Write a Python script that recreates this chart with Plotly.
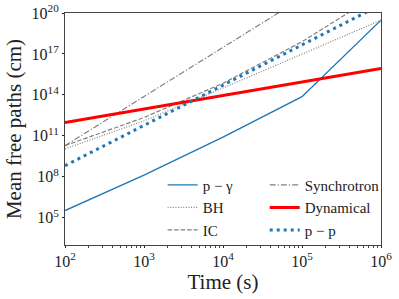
import plotly.graph_objects as go

# Time (s)
time_s = [1e2, 1e3, 1e4, 1e5, 1e6]

# Mean free paths (cm)
p_gamma = [3.3e5, 1.3e8, 7.9e10, 7.4e13, 3.0e19]
synchrotron = [1.9e10, 7.6e13, 3.0e17, 1.2e21, 4.8e24]
bh = [1.1e10, 1.26e12, 3.16e14, 1.0e17, 3.0e19]
dynamical = [9.5e11, 9.3e12, 9.0e13, 8.8e14, 8.5e15]
ic = [1.9e10, 2.2e12, 7.1e14, 7.9e17, 3.2e21]
p_p = [6.5e8, 5.8e11, 5.1e14, 4.6e17, 4.1e20]

x_tickvals = [1e2, 1e3, 1e4, 1e5, 1e6]
x_ticktext = ["10<sup>2</sup>", "10<sup>3</sup>", "10<sup>4</sup>", "10<sup>5</sup>", "10<sup>6</sup>"]
y_tickvals = [1e5, 1e8, 1e11, 1e14, 1e17, 1e20]
y_ticktext = ["10<sup>5</sup>", "10<sup>8</sup>", "10<sup>11</sup>", "10<sup>14</sup>", "10<sup>17</sup>", "10<sup>20</sup>"]

BLUE = "#1f77b4"
GRAY = "#808080"
RED = "#ff0000"
FONT = "'Liberation Serif', 'DejaVu Serif', serif"

fig = go.Figure()

def add(name, y, color, width, dash, legend, group):
    fig.add_trace(go.Scatter(
        x=time_s, y=y, mode="lines", name=name,
        line=dict(color=color, width=width, dash=dash),
        legend=legend, legendgroup=group,
    ))

add("p − γ", p_gamma, BLUE, 1.4, "solid", "legend", "a")
add("BH", bh, GRAY, 1.2, "1px,1.6px", "legend", "b")
add("IC", ic, GRAY, 1.2, "4.5px,2px", "legend", "c")
add("Synchrotron", synchrotron, GRAY, 1.2, "6px,2px,1.2px,2px", "legend2", "d")
add("Dynamical", dynamical, RED, 3, "solid", "legend2", "e")
add("p − p", p_p, BLUE, 3, "3px,4px", "legend2", "f")

axis_common = dict(
    type="log", showgrid=False, zeroline=False, automargin=False,
    showline=True, linecolor="#444", linewidth=1, mirror=True,
    ticks="outside", ticklen=2, tickcolor="#222", tickwidth=1,
    tickfont=dict(family=FONT, size=16, color="#222"),
    ticklabeloverflow="allow",
)

fig.update_xaxes(
    range=[2, 6], tickvals=x_tickvals, ticktext=x_ticktext,
    minor=dict(ticks="outside", ticklen=1.5, tickcolor="#444", dtick="D1"),
    title=dict(text="Time (s)", font=dict(family=FONT, size=21, color="#222"), standoff=2),
    **axis_common,
)
fig.update_yaxes(
    range=[3, 20], tickvals=y_tickvals, ticktext=y_ticktext,
    title=dict(text="Mean free paths (cm)", font=dict(family=FONT, size=21, color="#222"), standoff=4),
    **axis_common,
)

leg_common = dict(
    font=dict(family=FONT, size=15, color="#222"),
    bgcolor="rgba(0,0,0,0)", borderwidth=0,
    orientation="v", tracegroupgap=0,
    xanchor="left", yanchor="top",
)

fig.update_layout(
    width=399, height=299,
    margin=dict(l=65, r=18, t=13, b=54),
    paper_bgcolor="white", plot_bgcolor="white",
    font=dict(family=FONT),
    legend=dict(x=0.309, y=0.329, **leg_common),
    legend2=dict(x=0.632, y=0.329, **leg_common),
    showlegend=True,
)

fig.write_html("out.html", config={"displayModeBar": False},
               post_script="document.body.style.margin='0';")
